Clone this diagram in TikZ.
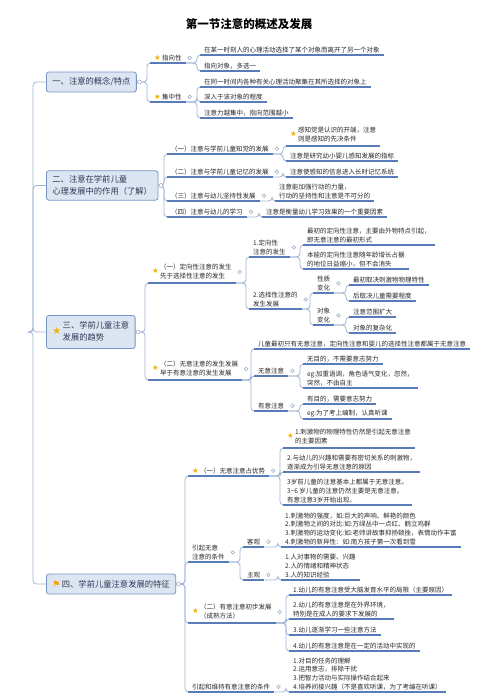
\documentclass[tikz,border=0pt]{standalone}
\usepackage{fontspec}
\setmainfont{Noto Sans CJK SC}
\newfontfamily\symfont{DejaVu Sans}

\definecolor{boxfill}{RGB}{220,230,242}
\definecolor{boxline}{RGB}{118,148,196}
\definecolor{topictext}{RGB}{44,56,84}
\definecolor{itemtext}{RGB}{40,40,40}
\definecolor{ulblue}{RGB}{88,124,184}
\definecolor{linkblue}{RGB}{160,182,214}
\definecolor{portgray}{RGB}{150,165,190}
\definecolor{stargold}{RGB}{242,178,0}
\definecolor{flagorange}{RGB}{240,165,0}

% icons in front of texts
\newcommand{\staricon}{{\symfont\fontsize{7.5}{8}\selectfont\color{stargold}★}\,}
\newcommand{\flagicon}{{\symfont\fontsize{9}{9}\selectfont\color{flagorange}⚑}\,}
\newcommand{\starred}[1]{\staricon\begin{tabular}{@{}l@{}}#1\end{tabular}}

\tikzset{
  topic/.style={draw=boxline, fill=boxfill, rounded corners=2.5pt, line width=0.8pt,
    anchor=west, font=\fontsize{8.3}{11.5}\selectfont, text=topictext,
    inner xsep=6pt, inner ysep=5pt, minimum height=20pt, align=left},
  item/.style={anchor=south west, font=\fontsize{6.5}{8.7}\selectfont, text=itemtext,
    inner xsep=4pt, inner ysep=2pt, align=left},
  uline/.style={draw=ulblue, line width=1.1pt},
  link/.style={draw=linkblue, line width=0.8pt, rounded corners=3.5pt},
  port/.style={draw=portgray, fill=white, line width=0.5pt},
}

\begin{document}
\begin{tikzpicture}[x=1pt,y=-1pt]
  \fill[white] (0,0) rectangle (500,694);
  \useasboundingbox (0,0) rectangle (500,694);

  \node[font=\fontsize{11.5}{14}\selectfont\bfseries, text=black] (title) at (249,24) {第一节注意的概述及发展};

  % main topics
  \node[topic] (t1) at (46,82) {一、注意的概念/特点};
  \node[topic] (t2) at (46,185.5) {二、注意在学前儿童\\心理发展中的作用（了解）};
  \node[topic] (t3) at (46,332) {{\symfont\fontsize{10}{10}\selectfont\color{stargold}★}\,\begin{tabular}{@{}l@{}}三、学前儿童注意\\发展的趋势\end{tabular}};
  \node[topic] (t4) at (46,584) {\flagicon 四、学前儿童注意发展的特征};
  \coordinate (root) at (30,332);

  % section 1
  \node[item] (s1a) at (150,63) {\staricon 指向性};
  \node[item] (s1b) at (150,102) {\staricon 集中性};
  \node[item] (s1a1) at (200,55) {在某一时刻人的心理活动选择了某个对象而离开了另一个对象};
  \node[item] (s1a2) at (200,71) {指向对象，多选一};
  \node[item] (s1b1) at (200,87) {在同一时间内各种有关心理活动聚集在其所选择的对象上};
  \node[item] (s1b2) at (200,102) {深入于该对象的程度};
  \node[item] (s1b3) at (200,118) {注意力越集中，指向范围越小};

  % section 2
  \node[item] (s2a) at (167,154) {（一）注意与学前儿童知觉的发展};
  \node[item] (s2b) at (167,177) {（二）注意与学前儿童记忆的发展};
  \node[item] (s2c) at (167,201) {（三）注意与幼儿坚持性发展};
  \node[item] (s2d) at (167,217) {（四）注意与幼儿的学习};
  \node[item] (s2a1) at (286,146) {\starred{感知觉是认识的开端，注意\\则是感知的先决条件}};
  \node[item] (s2a2) at (286,161) {注意是研究幼小婴儿感知发展的指标};
  \node[item] (s2b1) at (286,177) {注意使感知的信息进入长时记忆系统};
  \node[item] (s2c1) at (275,201) {注意能加强行动的力量，\\行动的坚持性和注意是不可分的};
  \node[item] (s2d1) at (262,217) {注意是衡量幼儿学习效果的一个重要因素};

  % section 3
  \node[item] (s3a) at (148,283) {\starred{（一）定向性注意的发生\\先于选择性注意的发生}};
  \node[item] (s3b) at (148,380) {\starred{（二）无意注意的发生发展\\早于有意注意的发生发展}};
  \node[item] (s3a1) at (249,257) {1.定向性\\注意的发生};
  \node[item] (s3a2) at (249,309) {2.选择性注意的\\发生发展};
  \node[item] (s3a1a) at (303,245) {最初的定向性注意，主要由外物特点引起，\\即无意注意的最初形式};
  \node[item] (s3a1b) at (303,269) {本能的定向性注意随年龄增长占据\\的地位日益缩小，但不会消失};
  \node[item] (s3a2a) at (313,293) {性质\\变化};
  \node[item] (s3a2b) at (313,325) {对象\\变化};
  \node[item] (s3a2a1) at (349,285) {最初取决刺激物物理特性};
  \node[item] (s3a2a2) at (349,301) {后取决儿童需要程度};
  \node[item] (s3a2b1) at (349,317) {注意范围扩大};
  \node[item] (s3a2b2) at (349,333) {对象的复杂化};
  \node[item] (s3b1) at (254,349) {儿童最初只有无意注意，定向性注意和婴儿的选择性注意都属于无意注意};
  \node[item] (s3b2) at (254,376) {无意注意};
  \node[item] (s3b3) at (254,411) {有意注意};
  \node[item] (s3b2a) at (303,364) {无目的，不需要意志努力};
  \node[item] (s3b2b) at (303,388) {eg:加重语调，角色语气变化，忽然，\\突然，不由自主};
  \node[item] (s3b3a) at (303,404) {有目的，需要意志努力};
  \node[item] (s3b3b) at (303,419) {eg:为了考上编制，认真听课};

  % section 4
  \node[item] (s4a) at (188,476) {\staricon（一）无意注意占优势};
  \node[item] (s4b) at (188,562) {引起无意\\注意的条件};
  \node[item] (s4c) at (188,623) {\starred{（二）有意注意初步发展\\（成熟方法）}};
  \node[item] (s4d) at (188,692) {引起和维持有意注意的条件};
  \node[item] (s4a1) at (283,448) {\starred{1.刺激物的物理特性仍然是引起无意注意\\的主要因素}};
  \node[item] (s4a2) at (283,472) {2.与幼儿的兴趣和需要有密切关系的刺激物，\\逐渐成为引导无意注意的原因};
  \node[item] (s4a3) at (283,505) {3岁前儿童的注意基本上都属于无意注意。\\3\textasciitilde6 岁儿童的注意仍然主要是无意注意。\\有意注意3岁开始出现。};
  \node[item] (s4b1) at (243,547) {客观};
  \node[item] (s4b2) at (243,580) {主观};
  \node[item] (s4b1a) at (281,547) {1.刺激物的强度，如:巨大的声响、鲜艳的颜色\\2.刺激物之间的对比:如:万绿丛中一点红、鹤立鸡群\\3.刺激物的运动变化:如:老师讲故事抑扬顿挫，表情动作丰富\\4.刺激物的新异性：如:南方孩子第一次看到雪};
  \node[item] (s4b2a) at (281,580) {1.人对事物的需要、兴趣\\2.人的情绪和精神状态\\3.人的知识经验};
  \node[item] (s4c1) at (289,595) {1.幼儿的有意注意受大脑发育水平的局限（主要原因）};
  \node[item] (s4c2) at (289,619) {2.幼儿的有意注意是在外界环境，\\特别是在成人的要求下发展的};
  \node[item] (s4c3) at (289,635) {3.幼儿逐渐学习一些注意方法};
  \node[item] (s4c4) at (289,651) {4.幼儿的有意注意是在一定的活动中实现的};
  \node[item] (s4d1) at (289,692) {1.对目的任务的理解\\2.运用意志，排除干扰\\3.把智力活动与实际操作结合起来\\4.培养间接兴趣（不是喜欢听课，为了考编在听课）};

  % connectors
  \foreach \t in {t1,t2,t3,t4}
    \draw[link] (root) -- ++(3,0) |- (\t.west);
  \foreach \p/\c in {t1/s1a, t1/s1b, t2/s2a, t2/s2b, t2/s2c, t2/s2d,
      t3/s3a, t3/s3b, t4/s4a, t4/s4b, t4/s4c, t4/s4d}
    \draw[link] (\p.east) -| ([xshift=-3pt]\c.south west) -- (\c.south west);
  \foreach \p/\c in {s1a/s1a1, s1a/s1a2, s1b/s1b1, s1b/s1b2, s1b/s1b3,
      s2a/s2a1, s2a/s2a2, s2b/s2b1, s2c/s2c1, s2d/s2d1,
      s3a/s3a1, s3a/s3a2, s3a1/s3a1a, s3a1/s3a1b, s3a2/s3a2a, s3a2/s3a2b,
      s3a2a/s3a2a1, s3a2a/s3a2a2, s3a2b/s3a2b1, s3a2b/s3a2b2,
      s3b/s3b1, s3b/s3b2, s3b/s3b3, s3b2/s3b2a, s3b2/s3b2b, s3b3/s3b3a, s3b3/s3b3b,
      s4a/s4a1, s4a/s4a2, s4a/s4a3, s4b/s4b1, s4b/s4b2, s4b1/s4b1a, s4b2/s4b2a,
      s4c/s4c1, s4c/s4c2, s4c/s4c3, s4c/s4c4, s4d/s4d1}
    \draw[link] (\p.south east) -| ([xshift=-3pt]\c.south west) -- (\c.south west);

  % underlines
  \foreach \n in {s1a,s1b,s1a1,s1a2,s1b1,s1b2,s1b3,
      s2a,s2b,s2c,s2d,s2a1,s2a2,s2b1,s2c1,s2d1,
      s3a,s3b,s3a1,s3a2,s3a1a,s3a1b,s3a2a,s3a2b,s3a2a1,s3a2a2,s3a2b1,s3a2b2,
      s3b1,s3b2,s3b3,s3b2a,s3b2b,s3b3a,s3b3b,
      s4a,s4b,s4c,s4d,s4a1,s4a2,s4a3,s4b1,s4b2,s4b1a,s4b2a,s4c1,s4c2,s4c3,s4c4,s4d1}
    \draw[uline] (\n.south west) -- (\n.south east);

  % collapse ports
  \foreach \n in {t1,t2,t3,t4}
    \draw[port] ([xshift=2.5pt]\n.east) circle (2pt);
  \foreach \n in {s1a,s1b,s2a,s2b,s2c,s2d,s3a,s3b,s3a1,s3a2,s3a2a,s3a2b,s3b2,s3b3,
      s4a,s4b,s4b1,s4b2,s4c,s4d}
    \draw[port] ([xshift=4pt]\n.east) circle (1.8pt);
\end{tikzpicture}
\end{document}
